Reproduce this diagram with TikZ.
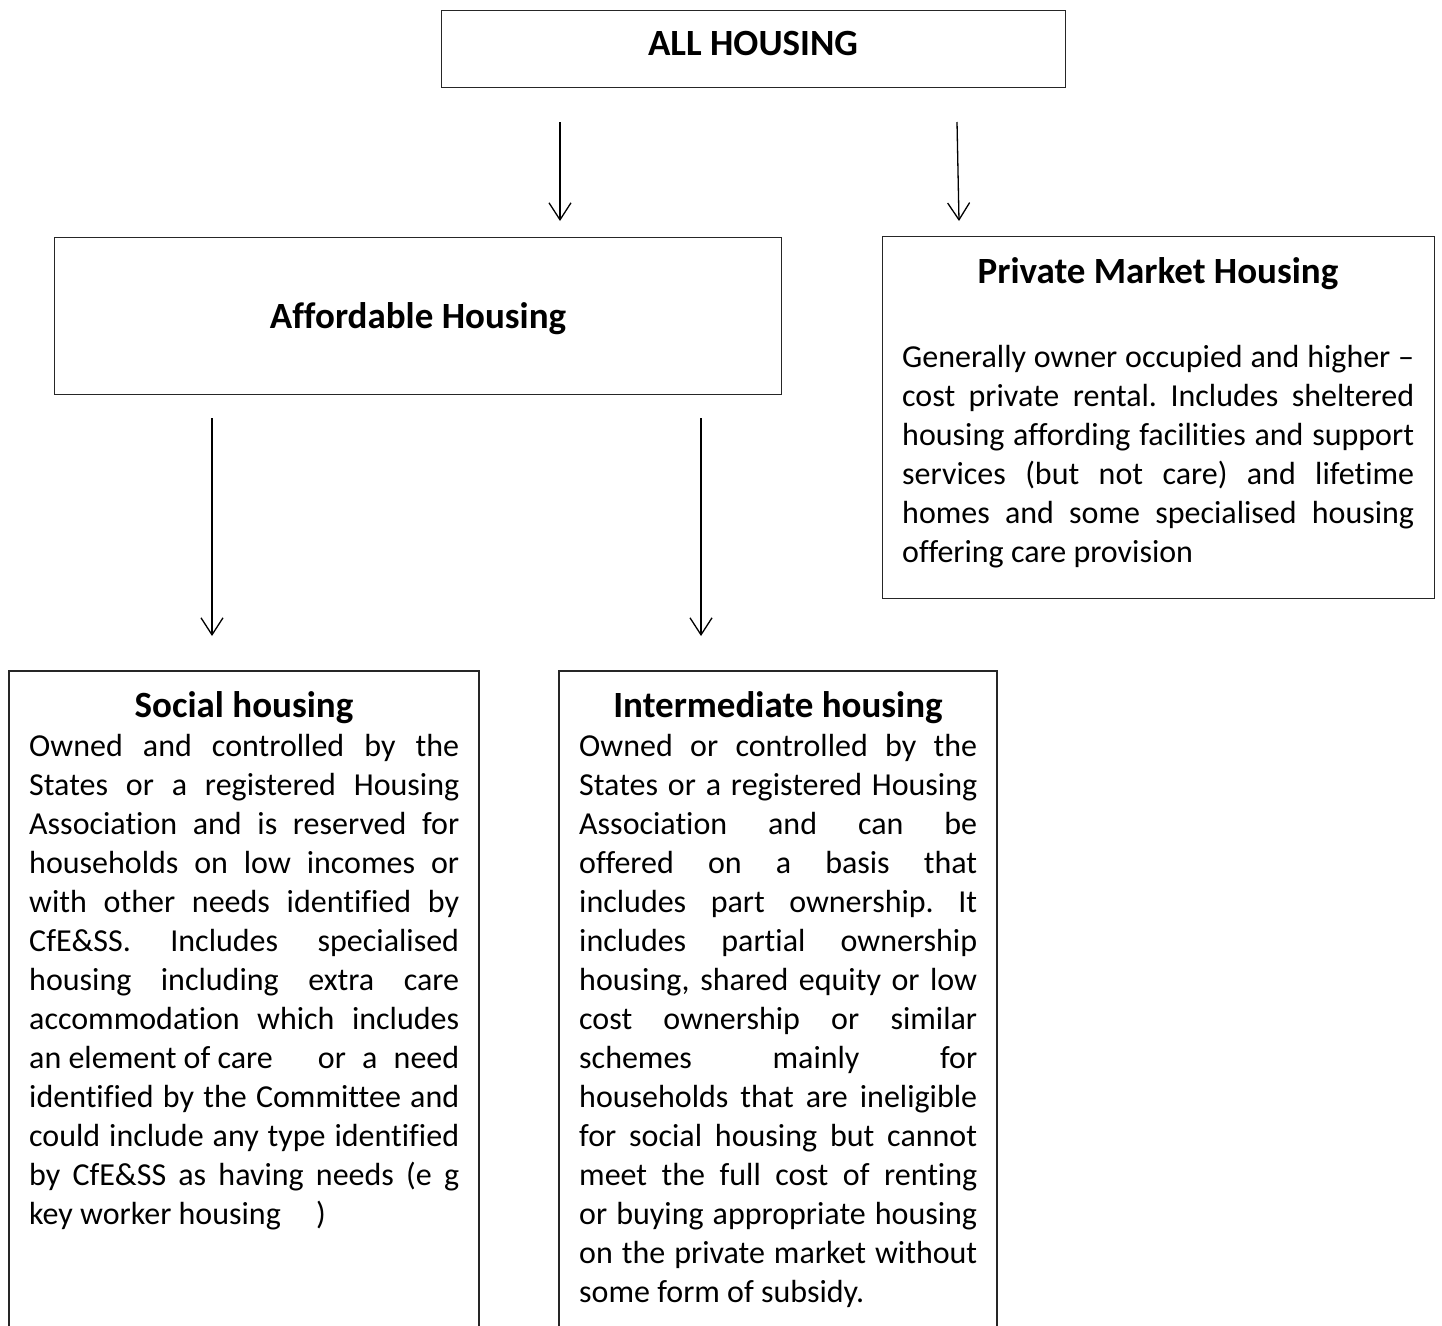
\documentclass[tikz,border=0pt]{standalone}
\usepackage{fontspec}
\setmainfont{Carlito}[Ligatures={NoCommon}, RawFeature={-liga;-dlig;-clig}]
\usetikzlibrary{arrows.meta}
\hbadness=10000
\frenchspacing
\begin{document}
\begin{tikzpicture}[x=1pt,y=-1pt,
  boxline/.style={draw=black!85, line width=1.1pt},
  frame/.style={boxline, anchor=north west, inner sep=0pt},
  title/.style={anchor=base, inner sep=0pt, font=\fontsize{37}{45}\selectfont\bfseries},
  body/.style={anchor=north west, inner sep=0pt, align=justify, font=\fontsize{32}{39}\selectfont\frenchspacing},
  arr/.style={line width=1.3pt, -{Straight Barb[length=17pt,width=22pt,line width=1.3pt]}}]
\useasboundingbox (0,0) rectangle (1442,1325);

% boxes
\node[frame, minimum width=624pt, minimum height=77pt] (allbox) at (441,10) {};
\node[frame, minimum width=727pt, minimum height=157pt] (affbox) at (54,237) {};
\node[frame, minimum width=552pt, minimum height=362pt] (privbox) at (882,236) {};
\coordinate (socTL) at (9,671);
\coordinate (socTR) at (479,671);
\coordinate (socBL) at (9,1326);
\coordinate (socBR) at (479,1326);
\coordinate (intTL) at (559,671);
\coordinate (intTR) at (997,671);
\coordinate (intBL) at (559,1326);
\coordinate (intBR) at (997,1326);
\draw[boxline] (socBL) -- (socTL) -- (socTR) -- (socBR);
\draw[boxline] (intBL) -- (intTL) -- (intTR) -- (intBR);

% titles
\node[title] (allt) at (753,55) {ALL HOUSING};
\node[title] (afft) at (418,328) {Affordable Housing};
\node[title] (privt) at (1158,283) {Private Market Housing};
\node[title] (soct) at (244,717) {Social housing};
\node[title] (intt) at (778,717) {Intermediate housing};

% body texts
\node[body, text width=512pt] (privb) at (902,339.7) {\strut Generally owner occupied and higher –\linebreak
cost private rental. Includes sheltered\linebreak
housing affording facilities and support\linebreak
services (but not care) and lifetime\linebreak
homes and some specialised housing\linebreak
offering care provision};

\node[body, text width=430pt] (socb) at (29,728.7) {\strut Owned and controlled by the\linebreak
States or a registered Housing\linebreak
Association and is reserved for\linebreak
households on low incomes or\linebreak
with other needs identified by\linebreak
CfE\&SS. Includes specialised\linebreak
housing including extra care\linebreak
accommodation which includes\linebreak
\mbox{an element of care}\hspace{0.9em} or a need\linebreak
identified by the Committee and\linebreak
could include any type identified\linebreak
by CfE\&SS as having needs (e g\linebreak
\mbox{key worker housing}\hspace{1.1em})};

\node[body, text width=398pt] (intb) at (579,728.7) {\strut Owned or controlled by the\linebreak
States or a registered Housing\linebreak
Association and can be\linebreak
offered on a basis that\linebreak
includes part ownership. It\linebreak
includes partial ownership\linebreak
housing, shared equity or low\linebreak
cost ownership or similar\linebreak
schemes mainly for\linebreak
households that are ineligible\linebreak
for social housing but cannot\linebreak
meet the full cost of renting\linebreak
or buying appropriate housing\linebreak
on the private market without\linebreak
some form of subsidy.};

% arrows
\coordinate (a1s) at (560,122); \coordinate (a1e) at (560,221);
\coordinate (a2s) at (957,122); \coordinate (a2e) at (959,221);
\coordinate (a3s) at (212,418); \coordinate (a3e) at (212,636);
\coordinate (a4s) at (701,418); \coordinate (a4e) at (701,636);
\draw[arr] (a1s) -- (a1e);
\draw[arr] (a2s) -- (a2e);
\draw[arr] (a3s) -- (a3e);
\draw[arr] (a4s) -- (a4e);
\end{tikzpicture}
\end{document}
